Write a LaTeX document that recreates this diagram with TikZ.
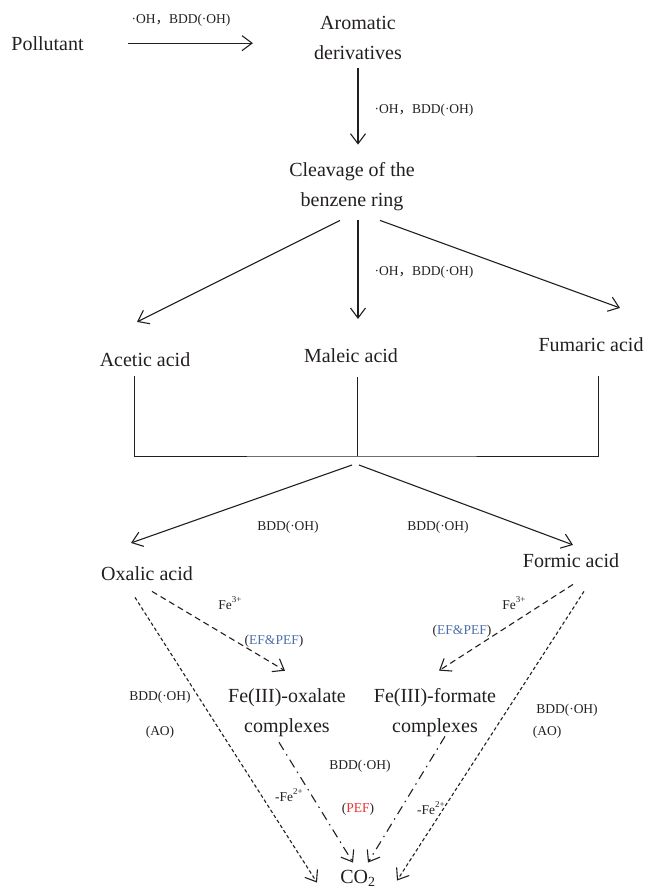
\documentclass[tikz,border=0pt]{standalone}
\usepackage{fontspec}
\setmainfont{Liberation Serif}
\newfontfamily\cjk{Noto Sans CJK SC}
\usetikzlibrary{arrows.meta}

\definecolor{ink}{HTML}{231F20}
\definecolor{efblue}{HTML}{4A6EA9}
\definecolor{pefred}{HTML}{E8332E}

\newcommand{\upsc}[1]{\raisebox{0.55em}{\fontsize{9}{9}\selectfont #1}}
\newcommand{\ohbdd}{·OH{\cjk ，}BDD(·OH)}

\tikzset{
    chem/.style={font=\fontsize{20}{30}\selectfont, inner sep=0pt, align=center, text=ink},
    cond/.style={font=\fontsize{13.5}{16}\selectfont, inner sep=0pt, text=ink},
    arr/.style={-{Straight Barb[length=10pt,width=15pt]}, line width=1.1pt, draw=ink},
    tree/.style={line width=1pt, draw=ink},
    dsh/.style={arr, dash pattern=on 6pt off 4pt},
    dotline/.style={arr, dash pattern=on 3.5pt off 2.5pt},
    dshdot/.style={arr, dash pattern=on 9pt off 5pt on 1.5pt off 5pt}
}

\begin{document}
\begin{tikzpicture}[x=1pt,y=-1pt]
    \useasboundingbox (0,0) rectangle (645,892);

    % species
    \node[chem,anchor=base] (pol) at (47.5,50) {Pollutant};
    \node[chem] (aro) at (358,38) {Aromatic\\derivatives};
    \node[chem] (clv) at (352,187) {Cleavage of the\\benzene ring};
    \node[chem,anchor=base] (ace) at (145,366) {Acetic acid};
    \node[chem,anchor=base] (mal) at (351,362) {Maleic acid};
    \node[chem,anchor=base] (fum) at (591,351) {Fumaric acid};
    \node[chem,anchor=base] (oxa) at (147,580) {Oxalic acid};
    \node[chem,anchor=base] (frm) at (571,567) {Formic acid};
    \node[chem] (feox) at (287,713) {Fe(III)-oxalate\\complexes};
    \node[chem] (fefo) at (435,713) {Fe(III)-formate\\complexes};
    \node[chem,anchor=base] (co2) at (358,883) {CO\textsubscript{2}};
    \coordinate (jn) at (357,456);

    % conditions
    \node[cond] (ohA) at (181,20) {\ohbdd};
    \node[cond] (ohB) at (424,110) {\ohbdd};
    \node[cond] (ohC) at (424,272) {\ohbdd};
    \node[cond] (bddL) at (288,527) {BDD(·OH)};
    \node[cond] (bddR) at (438,527) {BDD(·OH)};
    \node[cond] (feL) at (230,603) {Fe\upsc{3+}};
    \node[cond] (efL) at (274,641) {(\textcolor{efblue}{EF\&PEF})};
    \node[cond] (feR) at (514,603) {Fe\upsc{3+}};
    \node[cond] (efR) at (462,631) {(\textcolor{efblue}{EF\&PEF})};
    \node[cond] (aoBddL) at (160,697) {BDD(·OH)};
    \node[cond] (aoL) at (160,732) {(AO)};
    \node[cond] (aoBddR) at (567,710) {BDD(·OH)};
    \node[cond] (aoR) at (547,732) {(AO)};
    \node[cond] (pefBdd) at (360,766) {BDD(·OH)};
    \node[cond] (pef) at (358,809) {(\textcolor{pefred}{PEF})};
    \node[cond] (fe2L) at (289,795) {-Fe\upsc{2+}};
    \node[cond] (fe2R) at (431,808) {-Fe\upsc{2+}};

    % oxidation steps
    \draw[arr,shorten <=44pt,shorten >=61pt] (pol.east) -- (pol.east -| aro.west);
    \draw[arr,shorten <=8pt,shorten >=18pt] (aro.south) -- (aro.south |- clv.north);
    \draw[arr] ([xshift=-12pt,yshift=-9pt]clv.south) -- ([xshift=-8pt,yshift=30pt]ace.north);
    \draw[arr] ([xshift=6pt,yshift=-9pt]clv.south) -- ([xshift=7pt,yshift=29pt]mal.north);
    \draw[arr] ([xshift=28pt,yshift=-9pt]clv.south) -- ([xshift=29pt,yshift=29pt]fum.north);

    \draw[tree] ([xshift=-11pt,yshift=-10pt]ace.south) |- (jn) -| ([xshift=7pt,yshift=-25pt]fum.south);
    \draw[tree] ([xshift=6pt,yshift=-15pt]mal.south) -- (jn);

    \draw[arr] ([xshift=-5pt,yshift=-9pt]jn) -- ([xshift=-16pt,yshift=23pt]oxa.north);
    \draw[arr] ([xshift=2pt,yshift=-9pt]jn) -- ([xshift=2pt,yshift=8pt]frm.north);

    % complexes and mineralization
    \draw[dsh] ([xshift=5pt,yshift=-11pt]oxa.south) -- ([xshift=-2pt,yshift=18pt]feox.north);
    \draw[dsh] ([xshift=2pt,yshift=-17pt]frm.south) -- ([xshift=4pt,yshift=18pt]fefo.north);
    \draw[dotline] ([xshift=-12pt,yshift=-17pt]oxa.south) -- ([xshift=-41pt,yshift=-13pt]co2.north);
    \draw[dotline] ([xshift=13pt,yshift=-24pt]frm.south) -- ([xshift=39pt,yshift=-11pt]co2.north);
    \draw[dshdot] ([xshift=-8pt,yshift=-5pt]feox.south) -- ([xshift=-5pt,yshift=7pt]co2.north);
    \draw[dshdot] ([xshift=10pt,yshift=1pt]fefo.south) -- ([xshift=10pt,yshift=7pt]co2.north);
\end{tikzpicture}
\end{document}
